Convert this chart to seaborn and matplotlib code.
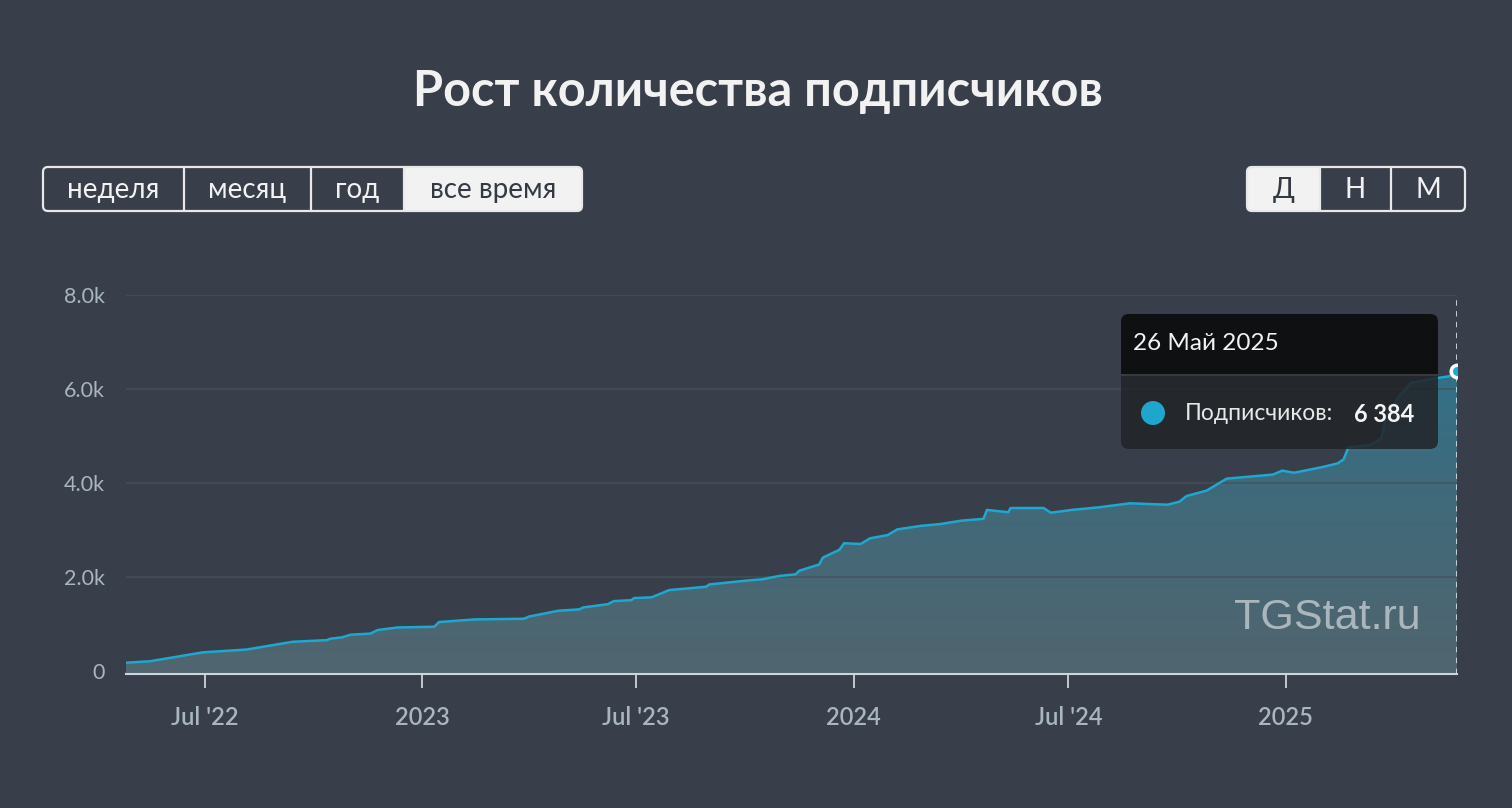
import matplotlib
matplotlib.use("Agg")
import matplotlib.pyplot as plt
import matplotlib.dates as mdates
import numpy as np
import pandas as pd
import seaborn as sns
from matplotlib.colors import LinearSegmentedColormap
from matplotlib.patches import FancyBboxPatch, Rectangle, Circle

# colours
BG = "#383e4a"
LINE = "#1ea8d0"
TICK = "#a9b6bf"
AXIS = "#cfd4d8"
GRID = "#46515b"

# data
dates = ["2022-04-25", "2022-05-15", "2022-06-29", "2022-08-05", "2022-09-13",
         "2022-10-12", "2022-10-15", "2022-10-25", "2022-11-01", "2022-11-18",
         "2022-11-24", "2022-12-11", "2023-01-11", "2023-01-15", "2023-02-03",
         "2023-02-14", "2023-03-28", "2023-04-01", "2023-04-26", "2023-05-14",
         "2023-05-17", "2023-06-07", "2023-06-12", "2023-06-27", "2023-06-29",
         "2023-07-14", "2023-07-29", "2023-08-29", "2023-09-01", "2023-10-02",
         "2023-10-16", "2023-10-30", "2023-11-13", "2023-11-16", "2023-12-03",
         "2023-12-06", "2023-12-20", "2023-12-24", "2024-01-07", "2024-01-15",
         "2024-01-30", "2024-02-07", "2024-02-27", "2024-03-15", "2024-04-01",
         "2024-04-20", "2024-04-23", "2024-05-11", "2024-05-13", "2024-06-10",
         "2024-06-16", "2024-07-04", "2024-07-27", "2024-08-22", "2024-09-23",
         "2024-10-03", "2024-10-09", "2024-10-26", "2024-11-12", "2024-12-21",
         "2024-12-29", "2025-01-08", "2025-01-31", "2025-02-14", "2025-02-19",
         "2025-02-23", "2025-03-14", "2025-03-23", "2025-03-27", "2025-04-06",
         "2025-04-17", "2025-05-04", "2025-05-19", "2025-05-26"]
subscribers = [180, 210, 400, 460, 625,
               660, 690, 720, 775, 800,
               875, 930, 945, 1045, 1080,
               1100, 1115, 1160, 1285, 1315,
               1355, 1425, 1490, 1510, 1555,
               1570, 1725, 1795, 1845, 1925,
               1955, 2025, 2060, 2135, 2270,
               2415, 2580, 2720, 2705, 2825,
               2895, 3015, 3090, 3130, 3200,
               3240, 3430, 3380, 3470, 3470,
               3370, 3430, 3485, 3570, 3540,
               3605, 3725, 3840, 4095, 4180,
               4265, 4220, 4335, 4420, 4505,
               4760, 4810, 4955, 5415, 5810,
               6130, 6215, 6270, 6384]

x_tick_dates = ["2022-07-01", "2023-01-01", "2023-07-01",
                "2024-01-01", "2024-07-01", "2025-01-01"]
x_tick_labels = ["Jul '22", "2023", "Jul '23", "2024", "Jul '24", "2025"]
y_ticks = [0, 2000, 4000, 6000, 8000]
y_tick_labels = ["0", "2.0k", "4.0k", "6.0k", "8.0k"]

period_buttons = ["неделя", "месяц", "год", "все время"]
scale_buttons = ["Д", "Н", "М"]

title = "Рост количества подписчиков"
tooltip_date = "26 Май 2025"
tooltip_label = "Подписчиков:"
tooltip_value = "6 384"

df = pd.DataFrame({"date": pd.to_datetime(dates), "subscribers": subscribers})

sns.set_theme(style="dark")
plt.rcParams["font.family"] = ["Lato", "DejaVu Sans"]

W, H = 1512, 808
fig = plt.figure(figsize=(W / 100, H / 100), dpi=100, facecolor=BG)

# main chart axes, placed in pixels
left, right, top, bottom = 126, 1457, 295, 674
ax = fig.add_axes([left / W, 1 - bottom / H, (right - left) / W, (bottom - top) / H])
ax.set_facecolor(BG)

ymin = -60
x0, x1 = pd.Timestamp("2022-04-25"), pd.Timestamp("2025-05-26")
ax.set_xlim(x0, x1)
ax.set_ylim(ymin, 8000)

# gradient area under the line
poly = ax.fill_between(df["date"], df["subscribers"], ymin, color="none", lw=0)
cmap = LinearSegmentedColormap.from_list("area", ["#51656f", "#3f6a7b", "#2a7692"])
grad = np.linspace(0, 1, 256).reshape(-1, 1)
im = ax.imshow(grad, cmap=cmap, aspect="auto", origin="lower",
               extent=[mdates.date2num(x0), mdates.date2num(x1), ymin, 8000],
               zorder=1)
im.set_clip_path(poly.get_paths()[0], transform=ax.transData)

sns.lineplot(data=df, x="date", y="subscribers", color=LINE, lw=1.8, ax=ax, zorder=3)

for t in y_ticks[1:]:
    ax.axhline(t, color=GRID, lw=1.1, zorder=2, alpha=0.9)

# crosshair and end marker
ax.axvline(df["date"].iloc[-1], color="#d3d9dd", lw=1.3, ls=(0, (3, 3)), zorder=4)
ax.plot(df["date"].iloc[-1], df["subscribers"].iloc[-1], "o", ms=9,
        mfc=LINE, mec="white", mew=2.5, zorder=5)

ax.set_xticks(pd.to_datetime(x_tick_dates))
ax.set_xticklabels(x_tick_labels, fontsize=17, fontweight="semibold", color=TICK)
ax.set_yticks(y_ticks)
ax.set_yticklabels(y_tick_labels, fontsize=15.5, color=TICK)
ax.tick_params(axis="x", direction="out", length=10, width=1.3, color=AXIS, pad=13,
               bottom=True)
ax.tick_params(axis="y", length=0, pad=15)
ax.set_xlabel("")
ax.set_ylabel("")
ax.grid(False)
for side in ["top", "right", "left"]:
    ax.spines[side].set_visible(False)
ax.spines["bottom"].set_color(AXIS)
ax.spines["bottom"].set_linewidth(1.5)

# overlay in pixel units for title, buttons, tooltip
ui = fig.add_axes([0, 0, 1, 1], zorder=10)
ui.set_xlim(0, W)
ui.set_ylim(H, 0)
ui.axis("off")
ui.patch.set_alpha(0)

ui.text(W / 2 + 2, 92, title, ha="center", va="center", fontsize=35,
        fontweight="bold", color="#f2f2f2")


def button_group(x_edges, labels, selected, y0=167, y1=211):
    xa, xb = x_edges[0], x_edges[-1]
    sa, sb = x_edges[selected], x_edges[selected + 1]
    ui.add_patch(FancyBboxPatch((sa, y0), sb - sa, y1 - y0,
                                boxstyle="round,pad=0,rounding_size=5",
                                fc="#f2f2f2", ec="none"))
    # square off inner corners of the filled segment
    if sa != xa:
        ui.add_patch(Rectangle((sa, y0), 8, y1 - y0, fc="#f2f2f2", ec="none"))
    if sb != xb:
        ui.add_patch(Rectangle((sb - 8, y0), 8, y1 - y0, fc="#f2f2f2", ec="none"))
    ui.add_patch(FancyBboxPatch((xa, y0), xb - xa, y1 - y0,
                                boxstyle="round,pad=0,rounding_size=5",
                                fc="none", ec="#e8e8e8", lw=1.6))
    for xe in x_edges[1:-1]:
        ui.plot([xe, xe], [y0, y1], color="#e8e8e8", lw=1.6)
    for i, lab in enumerate(labels):
        cx = (x_edges[i] + x_edges[i + 1]) / 2
        col = "#333a44" if i == selected else "#f2f2f2"
        ui.text(cx, (y0 + y1) / 2 + 1, lab, ha="center", va="center",
                fontsize=20, color=col)


button_group([43, 184, 311, 404, 582], period_buttons, 3)
button_group([1247, 1320, 1391, 1465], scale_buttons, 0)

# tooltip (lower part slightly see-through, as in the reference)
ui.add_patch(FancyBboxPatch((1121, 314), 317, 135,
                            boxstyle="round,pad=0,rounding_size=8",
                            fc="#22262a", ec="none", alpha=0.88))
ui.add_patch(FancyBboxPatch((1121, 314), 317, 60,
                            boxstyle="round,pad=0,rounding_size=8",
                            fc="#0f1012", ec="none"))
ui.add_patch(Rectangle((1121, 360), 317, 14, fc="#0f1012", ec="none"))
ui.plot([1121, 1438], [374.5, 374.5], color="#3a3f44", lw=1.2)
ui.text(1133, 344, tooltip_date, ha="left", va="center", fontsize=17.5, color="#f2f2f2")
ui.add_patch(Circle((1153, 413), 12, fc="#1fa6cc", ec="none"))
ui.text(1185, 414, tooltip_label, ha="left", va="center", fontsize=16.5, color="#e8e8e8")
ui.text(1354, 414, tooltip_value, ha="left", va="center", fontsize=17,
        fontweight="bold", color="#f5f5f5")

# watermark
ui.text(1421, 618, "TGStat.ru", ha="right", va="center", fontsize=31,
        family=["Liberation Sans", "DejaVu Sans"], color="#c3cbd0", alpha=0.8)

fig.savefig("out.png", dpi=100, facecolor=BG)
